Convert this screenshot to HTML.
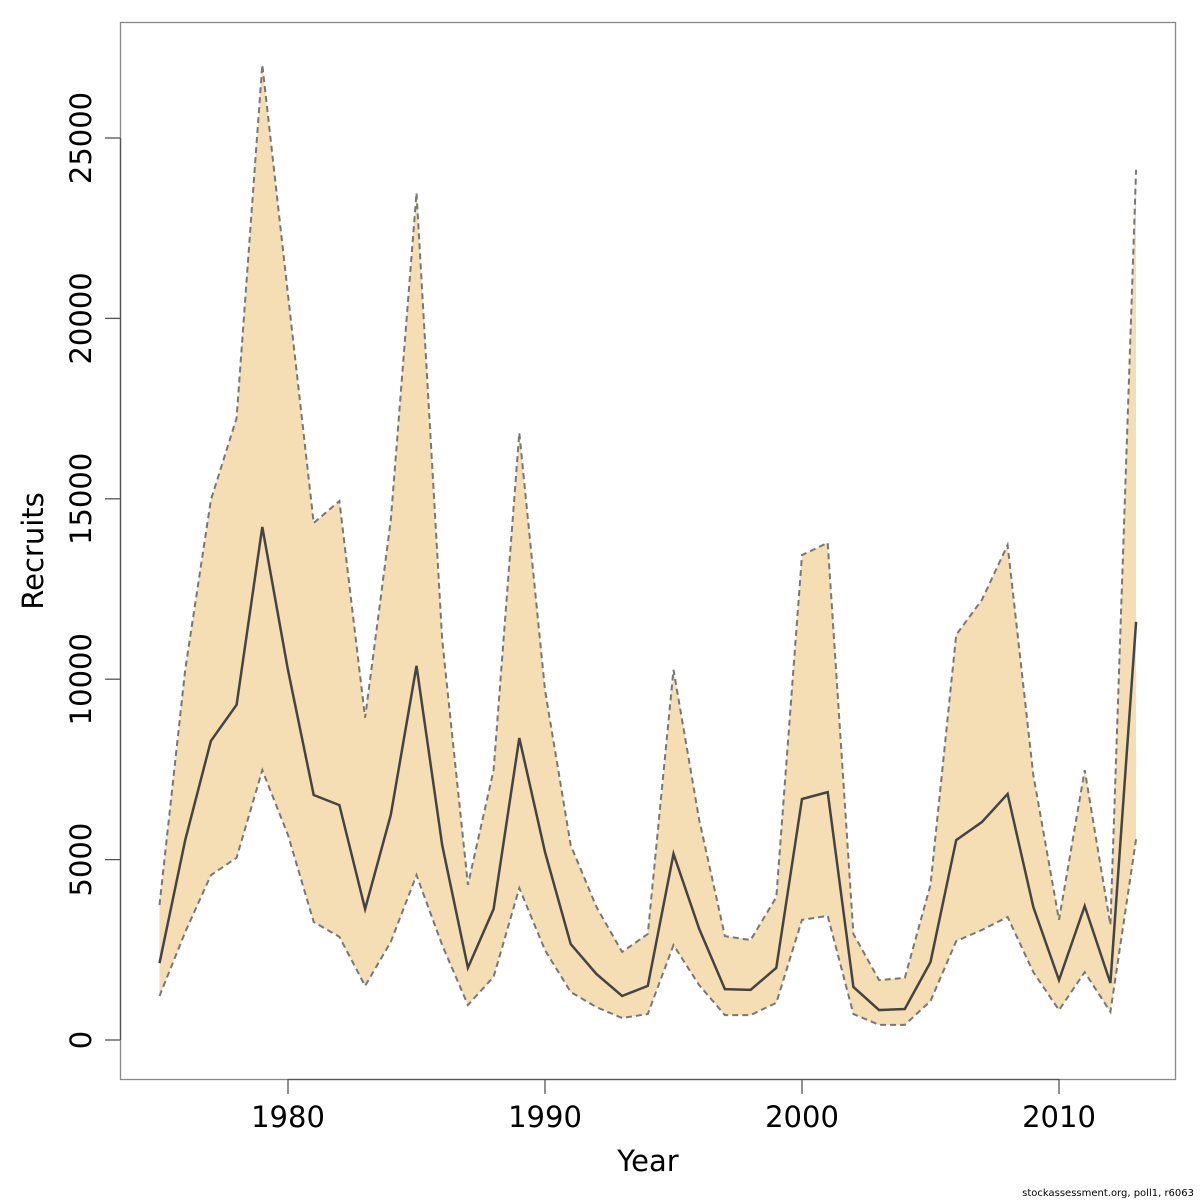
<!DOCTYPE html>
<html><head><meta charset="utf-8"><style>
body{margin:0;background:#fff}
svg{display:block}
text{font-family:"DejaVu Sans","Liberation Sans",sans-serif;fill:#000}
</style></head><body>
<svg id="chart" width="1200" height="1200" xmlns="http://www.w3.org/2000/svg">
<rect x="120.5" y="22.5" width="1055" height="1057" fill="none" stroke="#888" stroke-width="1.3"/>
<g id="bands"></g>
<g id="axes"></g>
<text x="648" y="1171" font-size="29" text-anchor="middle">Year</text>
<text transform="translate(43,551) rotate(-90)" font-size="29" text-anchor="middle">Recruits</text>
<text x="1194" y="1196" font-size="10" text-anchor="end">stockassessment.org, poll1, r6063</text>
</svg>
<script>
const years = [1975,1976,1977,1978,1979,1980,1981,1982,1983,1984,1985,1986,1987,1988,1989,1990,1991,1992,1993,1994,1995,1996,1997,1998,1999,2000,2001,2002,2003,2004,2005,2006,2007,2008,2009,2010,2011,2012,2013];
const recruits = [2130,5540,8290,9290,14220,10250,6790,6510,3630,6240,10370,5400,2000,3630,8370,5210,2660,1830,1220,1500,5160,3080,1410,1390,2000,6680,6870,1470,830,860,2160,5540,6040,6820,3690,1660,3710,1580,11590];
const upper = [3740,10260,14970,17240,27030,20650,14330,14940,8930,14410,23480,11090,4300,7480,16830,9700,5400,3690,2440,2940,10260,6100,2880,2770,3960,13440,13780,2940,1660,1720,4300,11230,12200,13720,7350,3330,7480,3190,24120];
const lower = [1220,2990,4570,5050,7480,5680,3270,2860,1500,2720,4570,2630,970,1750,4210,2490,1330,910,610,720,2630,1520,690,690,1030,3330,3440,720,420,420,1080,2740,3050,3410,1880,830,1880,780,5570];
const xTicks = [1980,1990,2000,2010];
const yTicks = [0,5000,10000,15000,20000,25000];

const NS = "http://www.w3.org/2000/svg";
const xScale = y => 288 + (y - 1980) * 25.7;
const yScale = v => 1040 - v * 180.4 / 5000;
function mk(tag, attrs, parent){const e=document.createElementNS(NS,tag);for(const k in attrs)e.setAttribute(k,attrs[k]);parent.appendChild(e);return e;}

const bands = document.getElementById('bands');
const axes = document.getElementById('axes');
const upPts = years.map((y,i)=>xScale(y)+','+yScale(upper[i]));
const loPts = years.map((y,i)=>xScale(y)+','+yScale(lower[i]));
const area = mk('polygon',{points:upPts.concat(loPts.slice().reverse()).join(' '),fill:'#f5deb3',stroke:'none'},bands);


const ul = mk('polyline',{points:upPts.join(' '),fill:'none',stroke:'#777','stroke-width':2,'stroke-dasharray':'6,4'},bands);


const ll = mk('polyline',{points:loPts.join(' '),fill:'none',stroke:'#777','stroke-width':2,'stroke-dasharray':'6,4'},bands);


const ml = mk('polyline',{points:years.map((y,i)=>xScale(y)+','+yScale(recruits[i])).join(' '),fill:'none',stroke:'#444','stroke-width':2.5},bands);



const xa = mk('line',{x1:xScale(xTicks[0]),x2:xScale(xTicks[xTicks.length-1]),y1:1079.5,y2:1079.5,stroke:'#555','stroke-width':1.3},axes);


xTicks.forEach(t=>{
  const tk = mk('line',{x1:xScale(t),x2:xScale(t),y1:1079,y2:1094,stroke:'#555','stroke-width':1.3},axes);
  
  
  const tx = mk('text',{x:xScale(t),y:1127,'font-size':29,'text-anchor':'middle'},axes);
  tx.textContent = t;
  
  
});
const ya = mk('line',{x1:120.5,x2:120.5,y1:yScale(yTicks[0]),y2:yScale(yTicks[yTicks.length-1]),stroke:'#555','stroke-width':1.3},axes);


yTicks.forEach(t=>{
  const tk = mk('line',{x1:105,x2:120,y1:yScale(t),y2:yScale(t),stroke:'#555','stroke-width':1.3},axes);
  
  
  const tx = mk('text',{transform:'translate(91,'+yScale(t)+') rotate(-90)','font-size':29,'text-anchor':'middle'},axes);
  tx.textContent = t;
  
  
});
</script>
</body></html>
